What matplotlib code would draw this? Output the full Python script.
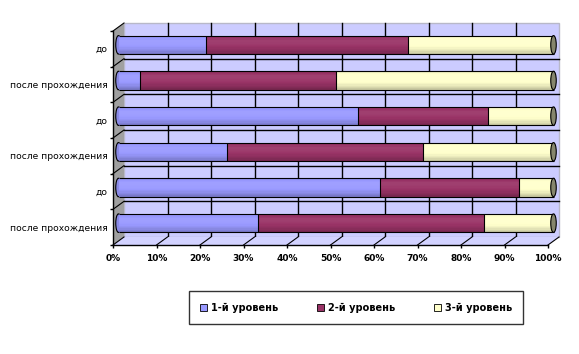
import matplotlib.pyplot as plt
import matplotlib.transforms as mtransforms
from matplotlib.patches import Rectangle, Ellipse, Polygon, Patch
import numpy as np

# categories top to bottom
categories = ["до", "после прохождения", "до", "после прохождения", "до", "после прохождения"]
level1 = [20, 5, 55, 25, 60, 32]
level2 = [46.5, 45, 30, 45, 32, 52]
level3 = [33.5, 50, 15, 30, 8, 16]
series_names = ["1-й уровень", "2-й уровень", "3-й уровень"]
colors = ["#9999FF", "#993366", "#FFFFCC"]
xticks = list(range(0, 101, 10))
xlabels = [f"{t}%" for t in xticks]

DX, DY = 11, 8   # depth offset in pixels
DPI = 100


def shade(c, f):
    rgb = np.array(plt.matplotlib.colors.to_rgb(c))
    if f >= 1:
        rgb = rgb + (1 - rgb) * (f - 1)
    else:
        rgb = rgb * f
    return np.clip(rgb, 0, 1)


fig = plt.figure(figsize=(5.79, 3.54), dpi=DPI)
ax = fig.add_axes([113 / 579, (354 - 245) / 354, 435 / 579, 214 / 354])
ax.set_xlim(0, 100)
ax.set_ylim(6, 0)
ax.patch.set_visible(False)

back = ax.transData + mtransforms.ScaledTranslation(DX / DPI, DY / DPI, fig.dpi_scale_trans)
mid = ax.transData + mtransforms.ScaledTranslation(DX / 2 / DPI, DY / 2 / DPI, fig.dpi_scale_trans)

# back wall
ax.add_patch(Rectangle((0, 0), 100, 6, transform=back, facecolor="#CCCCFF",
                       edgecolor="#B8B8C8", lw=1, clip_on=False, zorder=0))
for x in xticks[1:-1]:
    ax.plot([x, x], [0, 6], color="black", lw=1, transform=back, clip_on=False, zorder=1)
for y in range(1, 6):
    ax.plot([0, 100], [y, y], color="black", lw=1, transform=back, clip_on=False, zorder=1)


def disp(x, y, d):
    px, py = ax.transData.transform((x, y))
    return (px + d * DX, py + d * DY)


fig.canvas.draw()
ident = mtransforms.IdentityTransform()
# left wall
ax.add_patch(Polygon([disp(0, 0, 0), disp(0, 0, 1), disp(0, 6, 1), disp(0, 6, 0)],
                     closed=True, transform=ident, facecolor="#A0A0A0", edgecolor="none",
                     clip_on=False, zorder=1))
# floor
ax.add_patch(Polygon([disp(0, 6, 0), disp(100, 6, 0), disp(100, 6, 1), disp(0, 6, 1)],
                     closed=True, transform=ident, facecolor="#D2D2FF", edgecolor="none",
                     clip_on=False, zorder=1))
for x in xticks[1:]:
    p0, p1 = disp(x, 6, 0), disp(x, 6, 1)
    ax.plot([p0[0], p1[0]], [p0[1], p1[1]], color="black", lw=0.8, transform=ident,
            clip_on=False, zorder=2)
for y in range(0, 7):
    p0, p1 = disp(0, y, 0), disp(0, y, 1)
    ax.plot([p0[0], p1[0]], [p0[1], p1[1]], color="black", lw=0.8, transform=ident,
            clip_on=False, zorder=2)

# bars (cylinders)
ypos = np.arange(len(categories)) + 0.5
h = 0.52
data = np.array([level1, level2, level3])
lefts = np.vstack([np.zeros(len(categories)), np.cumsum(data, axis=0)[:-1]])
ew = 5.5 / (435 / 100)

for i, y in enumerate(ypos):
    ax.add_patch(Ellipse((0, y), ew, h, transform=mid, facecolor=shade(colors[0], 0.9),
                         edgecolor="black", lw=0.8, clip_on=False, zorder=3))

n = 14
for k in range(n):
    t = (k + 0.5) / n
    f = 1.06 - 0.3 * ((t - 0.25) / 0.75) ** 2 if t > 0.25 else 1.06 - 0.5 * (0.25 - t)
    top = ypos - h / 2 + k * h / n
    for s in range(3):
        ax.barh(top, data[s], height=h / n * 1.05, left=lefts[s], align="edge",
                color=shade(colors[s], f), edgecolor="none", transform=mid,
                clip_on=False, zorder=4)

ax.hlines(ypos - h / 2, 0, 100, color="black", lw=0.8, transform=mid, clip_on=False, zorder=5)
ax.hlines(ypos + h / 2, 0, 100, color="black", lw=0.8, transform=mid, clip_on=False, zorder=5)
for s in range(1, 3):
    ax.vlines(lefts[s], ypos - h / 2, ypos + h / 2, color="black", lw=0.8, transform=mid,
              clip_on=False, zorder=5)
for y in ypos:
    ax.add_patch(Ellipse((100, y), ew, h, transform=mid, facecolor="#86866C",
                         edgecolor="black", lw=0.8, clip_on=False, zorder=6))

# axes
for sp in ["top", "right"]:
    ax.spines[sp].set_visible(False)
for sp in ["left", "bottom"]:
    ax.spines[sp].set_color("black")
    ax.spines[sp].set_linewidth(1)
    ax.spines[sp].set_zorder(7)
ax.set_yticks(ypos, categories, fontsize=6.6)
ax.set_yticks(range(7), minor=True)
ax.tick_params(axis="y", which="major", length=0, pad=4)
ax.tick_params(axis="y", which="minor", length=2.5, width=1, direction="out")
ax.set_xticks(xticks, xlabels, fontsize=6.5, fontweight="bold")
ax.tick_params(axis="x", length=2.5, width=1, direction="out", pad=4)

handles = [Patch(facecolor=c, edgecolor="black", lw=0.6) for c in colors]
leg = fig.legend(handles, series_names, loc="center", bbox_to_anchor=(356 / 579, 1 - 307.5 / 354),
                 ncol=3, fontsize=7, frameon=True, fancybox=False, handlelength=0.7,
                 handleheight=0.7, handletextpad=0.4, columnspacing=4.0, borderpad=1.2,
                 borderaxespad=0)
leg.get_frame().set_edgecolor("black")
leg.get_frame().set_linewidth(1)
for t in leg.get_texts():
    t.set_fontweight("bold")

fig.savefig("out.png", dpi=DPI)
